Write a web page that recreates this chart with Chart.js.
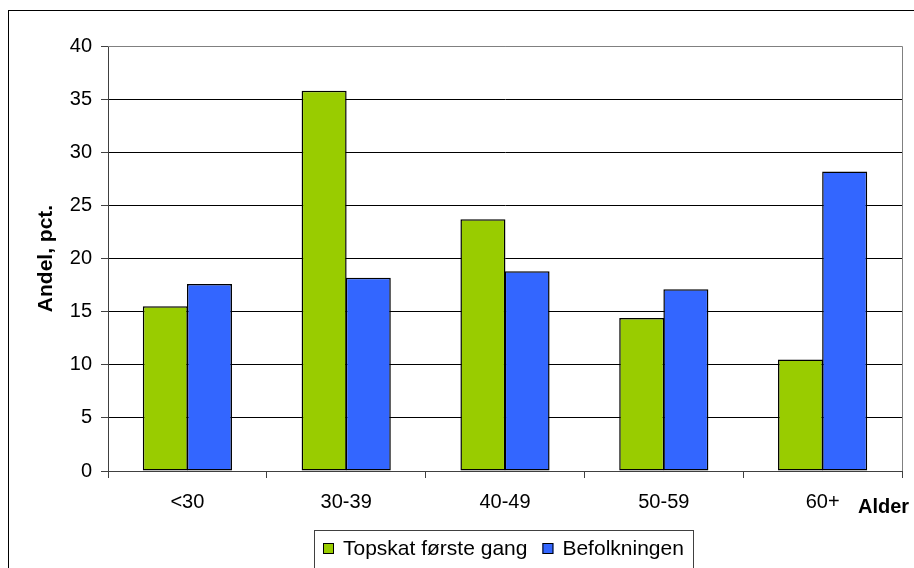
<!DOCTYPE html>
<html>
<head>
<meta charset="utf-8">
<script src="https://cdn.jsdelivr.net/npm/chart.js@4"></script>
<style>
  html, body { margin: 0; padding: 0; background: #fff; }
  #wrap { width: 914px; height: 568px; }
</style>
</head>
<body>
<div id="wrap"><canvas id="myChart" width="914" height="568"></canvas></div>
<script>
const aldersgrupper = ['<30', '30-39', '40-49', '50-59', '60+'];
const topskatForsteGang = [15.5, 35.8, 23.7, 14.4, 10.5];
const befolkningen = [17.6, 18.2, 18.8, 17.1, 28.2];
const serieNavne = ['Topskat første gang', 'Befolkningen'];
const yTicks = [0, 5, 10, 15, 20, 25, 30, 35, 40];

const fontFamily = 'Arial, "Liberation Sans", sans-serif';

// ramme, plotkant, legende og "Alder"
const rammePlugin = {
    id: 'ramme',
    beforeDraw(chart) {
        const c = chart.ctx;
        c.save();
        c.fillStyle = '#fff';
        c.fillRect(0, 0, chart.width, chart.height);
        c.strokeStyle = '#000';
        c.lineWidth = 1;
        c.strokeRect(8.5, 10.5, 920, 600);
        c.restore();
    },
    beforeDatasetsDraw(chart) {
        const a = chart.chartArea;
        const c = chart.ctx;
        c.save();
        c.strokeStyle = '#808080';
        c.lineWidth = 1;
        c.beginPath();
        c.moveTo(a.left, Math.round(a.top) + 0.5);
        c.lineTo(Math.round(a.right) + 0.5, Math.round(a.top) + 0.5);
        c.lineTo(Math.round(a.right) + 0.5, a.bottom);
        c.stroke();
        c.restore();
    },
    afterDraw(chart) {
        const c = chart.ctx;
        c.save();
        // Alder
        c.font = 'bold 20px ' + fontFamily;
        c.fillStyle = '#000';
        c.textBaseline = 'middle';
        c.textAlign = 'left';
        c.fillText('Alder', 858, 507);

        // legende
        c.strokeStyle = '#404040';
        c.lineWidth = 1;
        c.strokeRect(314.5, 530.5, 379, 50);
        c.font = '21px ' + fontFamily;
        let x = 323;
        chart.data.datasets.forEach(ds => {
            c.fillStyle = ds.backgroundColor;
            c.fillRect(x, 543, 11, 11);
            c.strokeStyle = '#000';
            c.strokeRect(x + 0.5, 543.5, 10, 10);
            c.fillStyle = '#000';
            c.fillText(ds.label, x + 20, 549);
            x += 20 + c.measureText(ds.label).width + 15;
        });
        c.restore();
    }
};

const ctx = document.getElementById('myChart').getContext('2d');
const myChart = new Chart(ctx, {
    type: 'bar',
    data: {
        labels: aldersgrupper,
        datasets: [
            {
                label: serieNavne[0],
                data: topskatForsteGang,
                backgroundColor: '#99CC00',
                borderColor: '#000',
                borderWidth: 1.5,
                borderSkipped: false
            },
            {
                label: serieNavne[1],
                data: befolkningen,
                backgroundColor: '#3366FF',
                borderColor: '#000',
                borderWidth: 1.5,
                borderSkipped: false
            }
        ]
    },
    options: {
        responsive: false,
        animation: false,
        devicePixelRatio: 1,
        layout: {
            padding: { left: 10, right: 12, top: 46, bottom: 57 }
        },
        datasets: {
            bar: { categoryPercentage: 0.556, barPercentage: 1.02 }
        },
        plugins: {
            legend: { display: false },
            tooltip: { enabled: false }
        },
        scales: {
            x: {
                grid: {
                    offset: true,
                    drawOnChartArea: false,
                    drawTicks: true,
                    tickLength: 7,
                    color: '#404040'
                },
                border: { color: '#404040', width: 1 },
                ticks: {
                    color: '#000',
                    padding: 12,
                    font: { family: fontFamily, size: 20 }
                },
                afterFit(scale) { scale.height = 40; }
            },
            y: {
                min: 0,
                max: 40,
                afterBuildTicks(scale) {
                    scale.ticks = yTicks.map(v => ({ value: v }));
                },
                grid: {
                    color: ctx => ctx.tick && ctx.tick.value === 40 ? '#808080' : '#000',
                    tickColor: '#404040',
                    drawTicks: true,
                    tickLength: 7,
                    lineWidth: 1
                },
                border: { color: '#404040', width: 1 },
                ticks: {
                    color: '#000',
                    padding: 9,
                    font: { family: fontFamily, size: 20 }
                },
                title: {
                    display: true,
                    text: 'Andel, pct.',
                    color: '#000',
                    padding: { top: 24, bottom: 0 },
                    font: { family: fontFamily, size: 21, weight: 'bold' }
                },
                afterFit(scale) { scale.width = 98; }
            }
        }
    },
    plugins: [rammePlugin]
});
</script>
</body>
</html>
